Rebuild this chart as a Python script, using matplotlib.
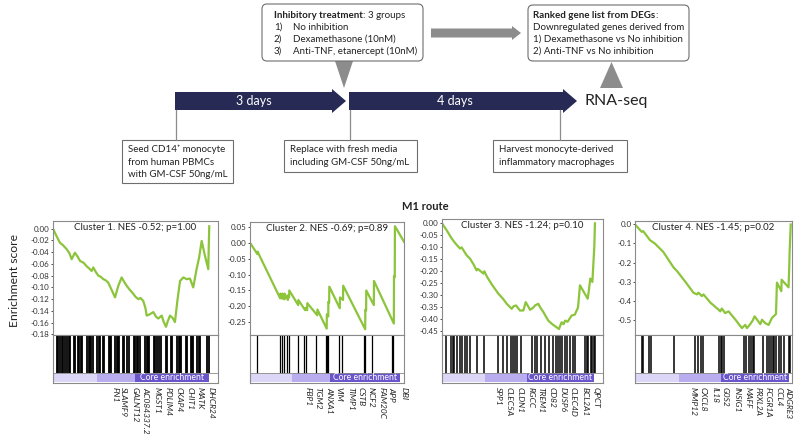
import matplotlib
matplotlib.use('Agg')
import matplotlib.pyplot as plt
from matplotlib.patches import FancyBboxPatch, Polygon, Rectangle

plt.rcParams['font.family'] = ['Lato', 'DejaVu Sans']
plt.rcParams['axes.unicode_minus'] = False

# ---- data (rank in % of list, running enrichment score) ----
p1_x = [0, 2, 4.2, 6, 8.3, 10, 11.3, 13.3, 15, 16.4, 18.5, 20.4, 22, 23.4, 24.4, 26, 27.5, 29, 30.5, 32,
        33.5, 35.5, 37.6, 39.5, 41.6, 43, 44.6, 46.5, 48.7, 50, 51.7, 53, 54.7, 56, 56.8, 58.5, 60.8, 62.5, 63.8, 65,
        65.9, 67, 68.5, 69.5, 70.9, 72.5, 73.9, 75.5, 77, 79, 81, 83, 85, 87, 88.5, 90.1, 92, 94.1, 94.4, 94.7]
p1_y = [0.000, -0.012, -0.024, -0.028, -0.035, -0.042, -0.052, -0.041, -0.048, -0.055,
        -0.058, -0.064, -0.068, -0.072, -0.066, -0.074, -0.080, -0.082, -0.086, -0.088,
        -0.092, -0.104, -0.117, -0.098, -0.083, -0.090, -0.097, -0.104, -0.111, -0.116,
        -0.120, -0.118, -0.123, -0.135, -0.148, -0.146, -0.142, -0.150, -0.153, -0.150,
        -0.148, -0.158, -0.167, -0.158, -0.148, -0.152, -0.159, -0.120, -0.089, -0.083,
        -0.086, -0.085, -0.100, -0.069, -0.050, -0.021, -0.045, -0.069, -0.030, 0.004]
p1_hits = [2.2, 3.2, 4.2, 5.3, 6.3, 7.3, 8.7, 9.5, 10.3, 12.7, 13.5, 15.2, 16.0, 16.8, 17.6, 20.8, 21.6,
           22.4, 23.2, 24.0, 26.9, 27.7, 28.5, 30.1, 30.9, 33.7, 34.5, 35.4, 37.8, 38.6, 39.4, 40.2, 42.2,
           43.0, 45.1, 45.9, 49.1, 49.9, 50.7, 51.5, 52.7, 56.0, 56.8, 57.6, 58.4, 61.2, 62.0, 62.8, 64.4,
           65.3, 68.5, 69.3, 71.3, 72.1, 75.4, 76.2, 77.0, 77.8, 80.6, 81.4, 83.4, 84.2, 85.1, 87.5, 88.3,
           89.1, 93.5, 94.3]
p1_ticks = [0.00, -0.02, -0.04, -0.06, -0.08, -0.10, -0.12, -0.14, -0.16, -0.18]
p1_genes = ['FN1', 'SLAMF9', 'GALNT12', 'AC084337.2', 'MGST1', 'PDLIM4', 'CKAP4', 'CHIT1', 'MATK', 'DHCR24']

p2_x = [0, 4.8, 4.9, 19.6, 19.7, 21.0, 21.1, 22.4, 22.5, 24.6, 24.7, 25.4, 25.5, 31.3, 31.4, 35.8, 35.9,
        37.1, 37.2, 43.7, 43.8, 49.8, 49.9, 50.8, 50.9, 51.4, 51.5, 58.3, 58.4, 60.4, 60.5, 74.8, 74.9,
        75.4, 75.5, 80.4, 80.5, 93.4, 93.5, 94.0, 94.1, 100]
p2_y = [0.0, -0.036, -0.028, -0.175, -0.160, -0.176, -0.160, -0.178, -0.160, -0.180, -0.165, -0.172,
        -0.150, -0.196, -0.180, -0.212, -0.205, -0.212, -0.190, -0.228, -0.210, -0.270, -0.225, -0.232,
        -0.185, -0.188, -0.138, -0.206, -0.172, -0.180, -0.135, -0.272, -0.210, -0.213, -0.150, -0.196,
        -0.120, -0.254, -0.105, -0.108, 0.052, 0.003]
p2_hits = [4.8, 19.6, 21.0, 22.4, 24.6, 25.4, 31.3, 35.8, 37.1, 43.7, 49.8, 50.8, 51.4, 58.3, 60.4,
           74.8, 75.4, 80.4, 93.4, 94.0]
p2_ticks = [0.05, 0.00, -0.05, -0.10, -0.15, -0.20, -0.25]
p2_genes = ['FBP1', 'TGM2', 'ANXA1', 'VIM', 'TIMP1', 'CSTB', 'NCF2', 'FAM20C', 'APP', 'DBI']

p3_x = [0, 3, 6, 8.5, 11.2, 12.2, 13.3, 15.3, 17.4, 19.5, 21.5, 22.3, 25.7, 26.3, 28, 31, 35, 38, 40.2, 43.3,
        44.5, 46, 48.4, 50.5, 52, 54.7, 56.5, 57.8, 59.8, 61, 63, 66, 68.5, 71.2, 72.7, 73.5, 74.3, 75.5, 76.5, 78,
        80.5, 82.5, 84.5, 85.7, 88, 90.5, 91.2, 92.1, 93.4, 94.6, 95]
p3_y = [0.0, -0.030, -0.063, -0.085, -0.105, -0.100, -0.112, -0.133, -0.147, -0.170,
        -0.196, -0.190, -0.209, -0.200, -0.223, -0.255, -0.293, -0.315, -0.335, -0.356,
        -0.345, -0.342, -0.363, -0.363, -0.328, -0.360, -0.352, -0.342, -0.335, -0.350,
        -0.370, -0.405, -0.420, -0.433, -0.440, -0.425, -0.412, -0.420, -0.405, -0.410,
        -0.384, -0.380, -0.350, -0.258, -0.285, -0.314, -0.280, -0.230, -0.244, -0.098, 0.0]
p3_hits = [2.3, 5.4, 6.6, 7.7, 9.5, 11.0, 12.3, 14.3, 15.7, 17.6, 22.0, 26.0, 35.0, 38.0, 40.3, 43.0, 44.0,
           45.2, 46.6, 49.2, 56.1, 57.7, 58.8, 61.3, 64.2, 66.7, 68.9, 70.8, 71.8, 73.2, 74.6, 76.3, 77.8,
           79.6, 81.6, 82.6, 88.6, 89.9, 90.9, 92.5, 93.4, 94.4, 95.0]
p3_ticks = [0.00, -0.05, -0.10, -0.15, -0.20, -0.25, -0.30, -0.35, -0.40, -0.45]
p3_genes = ['SPP1', 'CLEC5A', 'CLDN1', 'RGCC', 'TREM1', 'CD82', 'DUSP6', 'CLEC4D', 'BCL2A1', 'QPCT']

p4_x = [0, 4.3, 5.2, 9.6, 12.8, 18.1, 24.5, 26.6, 32, 37.2, 39.4, 40.4, 42.6, 43.6, 48, 53.2, 54.3, 55.3, 57.4,
        59.6, 64, 68.1, 70.2, 71.3, 73.4, 74.9, 76.2, 79.8, 80.9, 83, 85.1, 87.2, 89.8, 90.4, 93.2, 93.4, 97.8,
        98.2, 98.5, 99.2]
p4_y = [0.0, -0.039, -0.035, -0.083, -0.101, -0.145, -0.225, -0.243, -0.300, -0.358,
        -0.367, -0.358, -0.376, -0.367, -0.410, -0.447, -0.456, -0.441, -0.465, -0.456,
        -0.500, -0.544, -0.527, -0.544, -0.523, -0.505, -0.482, -0.523, -0.500, -0.518,
        -0.527, -0.491, -0.470, -0.305, -0.350, -0.290, -0.330, -0.235, -0.140, 0.0]
p4_hits = [4.4, 5.2, 8.6, 9.9, 24.6, 38.2, 40.0, 42.0, 43.5, 53.5, 54.6, 55.4, 56.4, 69.7, 70.8, 72.5, 73.8,
           74.9, 76.0, 81.5, 84.0, 85.5, 86.8, 87.8, 88.8, 89.8, 91.5, 93.2, 94.7, 97.9, 98.5]
p4_ticks = [0.0, -0.1, -0.2, -0.3, -0.4, -0.5]
p4_genes = ['MMP12', 'CXCL8', 'IL18', 'G0S2', 'INSIG1', 'MAFF', 'PRXL2A', 'FCGR1A', 'CCL4', 'ADGRE3']

titles = ['Cluster 1. NES -0.52; p=1.00', 'Cluster 2. NES -0.69; p=0.89',
          'Cluster 3. NES -1.24; p=0.10', 'Cluster 4. NES -1.45; p=0.02']

# ---- layout (pixels) ----
W, H = 811, 436
fig = plt.figure(figsize=(W / 100, H / 100), dpi=100)


def px_axes(l, t, r, b):
    return fig.add_axes([l / W, 1 - b / H, (r - l) / W, (b - t) / H])


NAVY = '#272a55'
GREY = '#8c8c8c'
EDGE = '#6e6e6e'
GREEN = '#8cc43c'
TXT = '#222222'

ax0 = px_axes(0, 0, W, H)
ax0.set_xlim(0, W)
ax0.set_ylim(H, 0)
ax0.axis('off')
renderer = fig.canvas.get_renderer()

# timeline arrows
ax0.add_patch(Polygon([(175, 92), (332, 92), (332, 89), (346, 101), (332, 113), (332, 110), (175, 110)],
                      closed=True, color=NAVY, lw=0))
ax0.add_patch(Polygon([(349, 92), (563, 92), (563, 89), (577, 101), (563, 113), (563, 110), (349, 110)],
                      closed=True, color=NAVY, lw=0))
ax0.text(254, 101, '3 days', color='white', fontsize=9, ha='center', va='center')
ax0.text(455, 101, '4 days', color='white', fontsize=9, ha='center', va='center')
ax0.text(584, 101, 'RNA-seq', color=TXT, fontsize=11.5, ha='left', va='center')

# grey pointers
ax0.add_patch(Polygon([(335, 61), (353, 61), (344, 88)], closed=True, color=GREY, lw=0))
ax0.add_patch(Polygon([(600, 88), (623, 88), (611.5, 62)], closed=True, color=GREY, lw=0))
ax0.add_patch(Polygon([(431, 28.5), (512, 28.5), (512, 26), (521, 33), (512, 40), (512, 37.5), (431, 37.5)],
                      closed=True, color=GREY, lw=0))

# connector lines
for xc in (176, 350, 560):
    ax0.plot([xc, xc], [110, 140], color=GREY, lw=0.9)


def rich_line(x, y, bold, rest, size=7):
    t = ax0.text(x, y, bold, fontweight='bold', fontsize=size, color=TXT, ha='left', va='baseline')
    bb = t.get_window_extent(renderer)
    x1 = ax0.transData.inverted().transform((bb.x1, bb.y0))[0]
    ax0.text(x1, y, rest, fontsize=size, color=TXT, ha='left', va='baseline')


# top boxes
ax0.add_patch(FancyBboxPatch((262, 4), 161, 57, boxstyle='round,pad=0,rounding_size=5',
                             fc='white', ec=EDGE, lw=0.8))
rich_line(274, 18, 'Inhibitory treatment', ': 3 groups')
for i, (num, txt) in enumerate([('1)', 'No inhibition'), ('2)', 'Dexamethasone (10nM)'),
                                ('3)', 'Anti-TNF, etanercept (10nM)')]):
    ax0.text(274, 29.5 + 12 * i, num, fontsize=7, color=TXT, ha='left', va='baseline')
    ax0.text(293, 29.5 + 12 * i, txt, fontsize=7, color=TXT, ha='left', va='baseline')

ax0.add_patch(FancyBboxPatch((528, 5), 161, 56, boxstyle='round,pad=0,rounding_size=5',
                             fc='white', ec=EDGE, lw=0.8))
rich_line(533, 18, 'Ranked gene list from DEGs', ':')
for i, txt in enumerate(['Downregulated genes derived from', '1) Dexamethasone vs No inhibition',
                         '2) Anti-TNF vs No inhibition']):
    ax0.text(533, 29.5 + 12.2 * i, txt, fontsize=7, color=TXT, ha='left', va='baseline')

# bottom boxes
for (l, t, r, b), lines in [((122, 140, 233, 183), ['Seed CD14\u207a monocyte', 'from human PBMCs',
                                                      'with GM-CSF 50ng/mL']),
                            ((284, 140, 417, 172), ['Replace with fresh media', 'including GM-CSF 50ng/mL']),
                            ((493, 140, 627, 172), ['Harvest monocyte-derived', 'inflammatory macrophages'])]:
    ax0.add_patch(Rectangle((l, t), r - l, b - t, fc='white', ec=EDGE, lw=0.8))
    for i, txt in enumerate(lines):
        ax0.text(l + 6, t + 12 + 12.7 * i, txt, fontsize=7, color=TXT, ha='left', va='baseline')

# ---- GSEA panels ----
ax0.text(425, 206, 'M1 route', fontsize=8, fontweight='bold', color=TXT, ha='center', va='center')
ax0.text(15, 280, 'Enrichment score', fontsize=8.7, color=TXT, rotation=90, ha='center', va='center')

panels = [
    (53, 221, 218, p1_x, p1_y, p1_hits, p1_ticks, p1_genes, (-0.181, 0.013), '%.2f',
     [37.6, 42.4, 49.7, 56.4, 63.0, 69.7, 76.4, 83.0, 89.1, 95.8], (26.7, 49.7, 94.5), 1.3),
    (250, 222, 404, p2_x, p2_y, p2_hits, p2_ticks, p2_genes, (-0.29, 0.065), '%.2f',
     [38.3, 44.8, 52.6, 58.4, 66.2, 73.4, 79.9, 87.0, 93.5, 101.3], (27.9, 52.6, 98.7), 0.9),
    (442, 219, 603, p3_x, p3_y, p3_hits, p3_ticks, p3_genes, (-0.465, 0.018), '%.2f',
     [34.8, 41.6, 48.4, 55.3, 61.5, 68.3, 75.2, 81.4, 88.8, 95.7], (26.7, 52.8, 94.4), 1.1),
    (635, 221, 792, p4_x, p4_y, p4_hits, p4_ticks, p4_genes, (-0.58, 0.018), '%.1f',
     [36.9, 43.3, 51.0, 57.3, 65.0, 72.0, 78.3, 84.7, 91.7, 98.1], (28.0, 54.8, 98.1), 1.1),
]

for k, (l, t, r, xs, ys, hits, ticks, genes, ylim, fmt, gpos, core, hit_lw) in enumerate(panels):
    ax = px_axes(l, t, r, 335)
    ax.plot(xs, ys, color=GREEN, lw=1.6, solid_joinstyle='round')
    ax.set_xlim(0, 100)
    ax.set_ylim(*ylim)
    ax.set_xticks([])
    ax.set_yticks(ticks)
    ax.set_yticklabels([fmt % v for v in ticks])
    ax.tick_params(axis='y', length=1.5, width=0.6, pad=1, labelsize=5.8, colors='#333333')
    ax.text(0.5, 0.94, titles[k], transform=ax.transAxes, ha='center', va='center', fontsize=7, color=TXT)
    for s in ax.spines.values():
        s.set_color('#8a8a8a')
        s.set_linewidth(0.8)

    bx = px_axes(l, 335, r, 383)
    bx.set_xlim(0, 100)
    bx.set_ylim(0, 1)
    bx.vlines(hits, 0.2, 1, color='black', lw=hit_lw)
    bx.broken_barh([(0, core[0]), (core[0], core[1] - core[0]), (core[1], core[2] - core[1])],
                   (0.02, 0.18), facecolors=['#dcd6f7', '#b9acef', '#6b55cc'])
    bx.axhline(0.2, color='#8a8a8a', lw=0.6)
    bx.text((core[1] + core[2]) / 2, 0.11, 'Core enrichment', color='white', fontsize=6.2,
            ha='center', va='center')
    bx.set_yticks([])
    bx.set_xticks(gpos)
    bx.set_xticklabels(genes, rotation=-90, fontstyle='italic', fontsize=6, color=TXT)
    bx.tick_params(axis='x', length=0, pad=3)
    for s in bx.spines.values():
        s.set_color('#8a8a8a')
        s.set_linewidth(0.8)

fig.savefig('out.png', dpi=100)
